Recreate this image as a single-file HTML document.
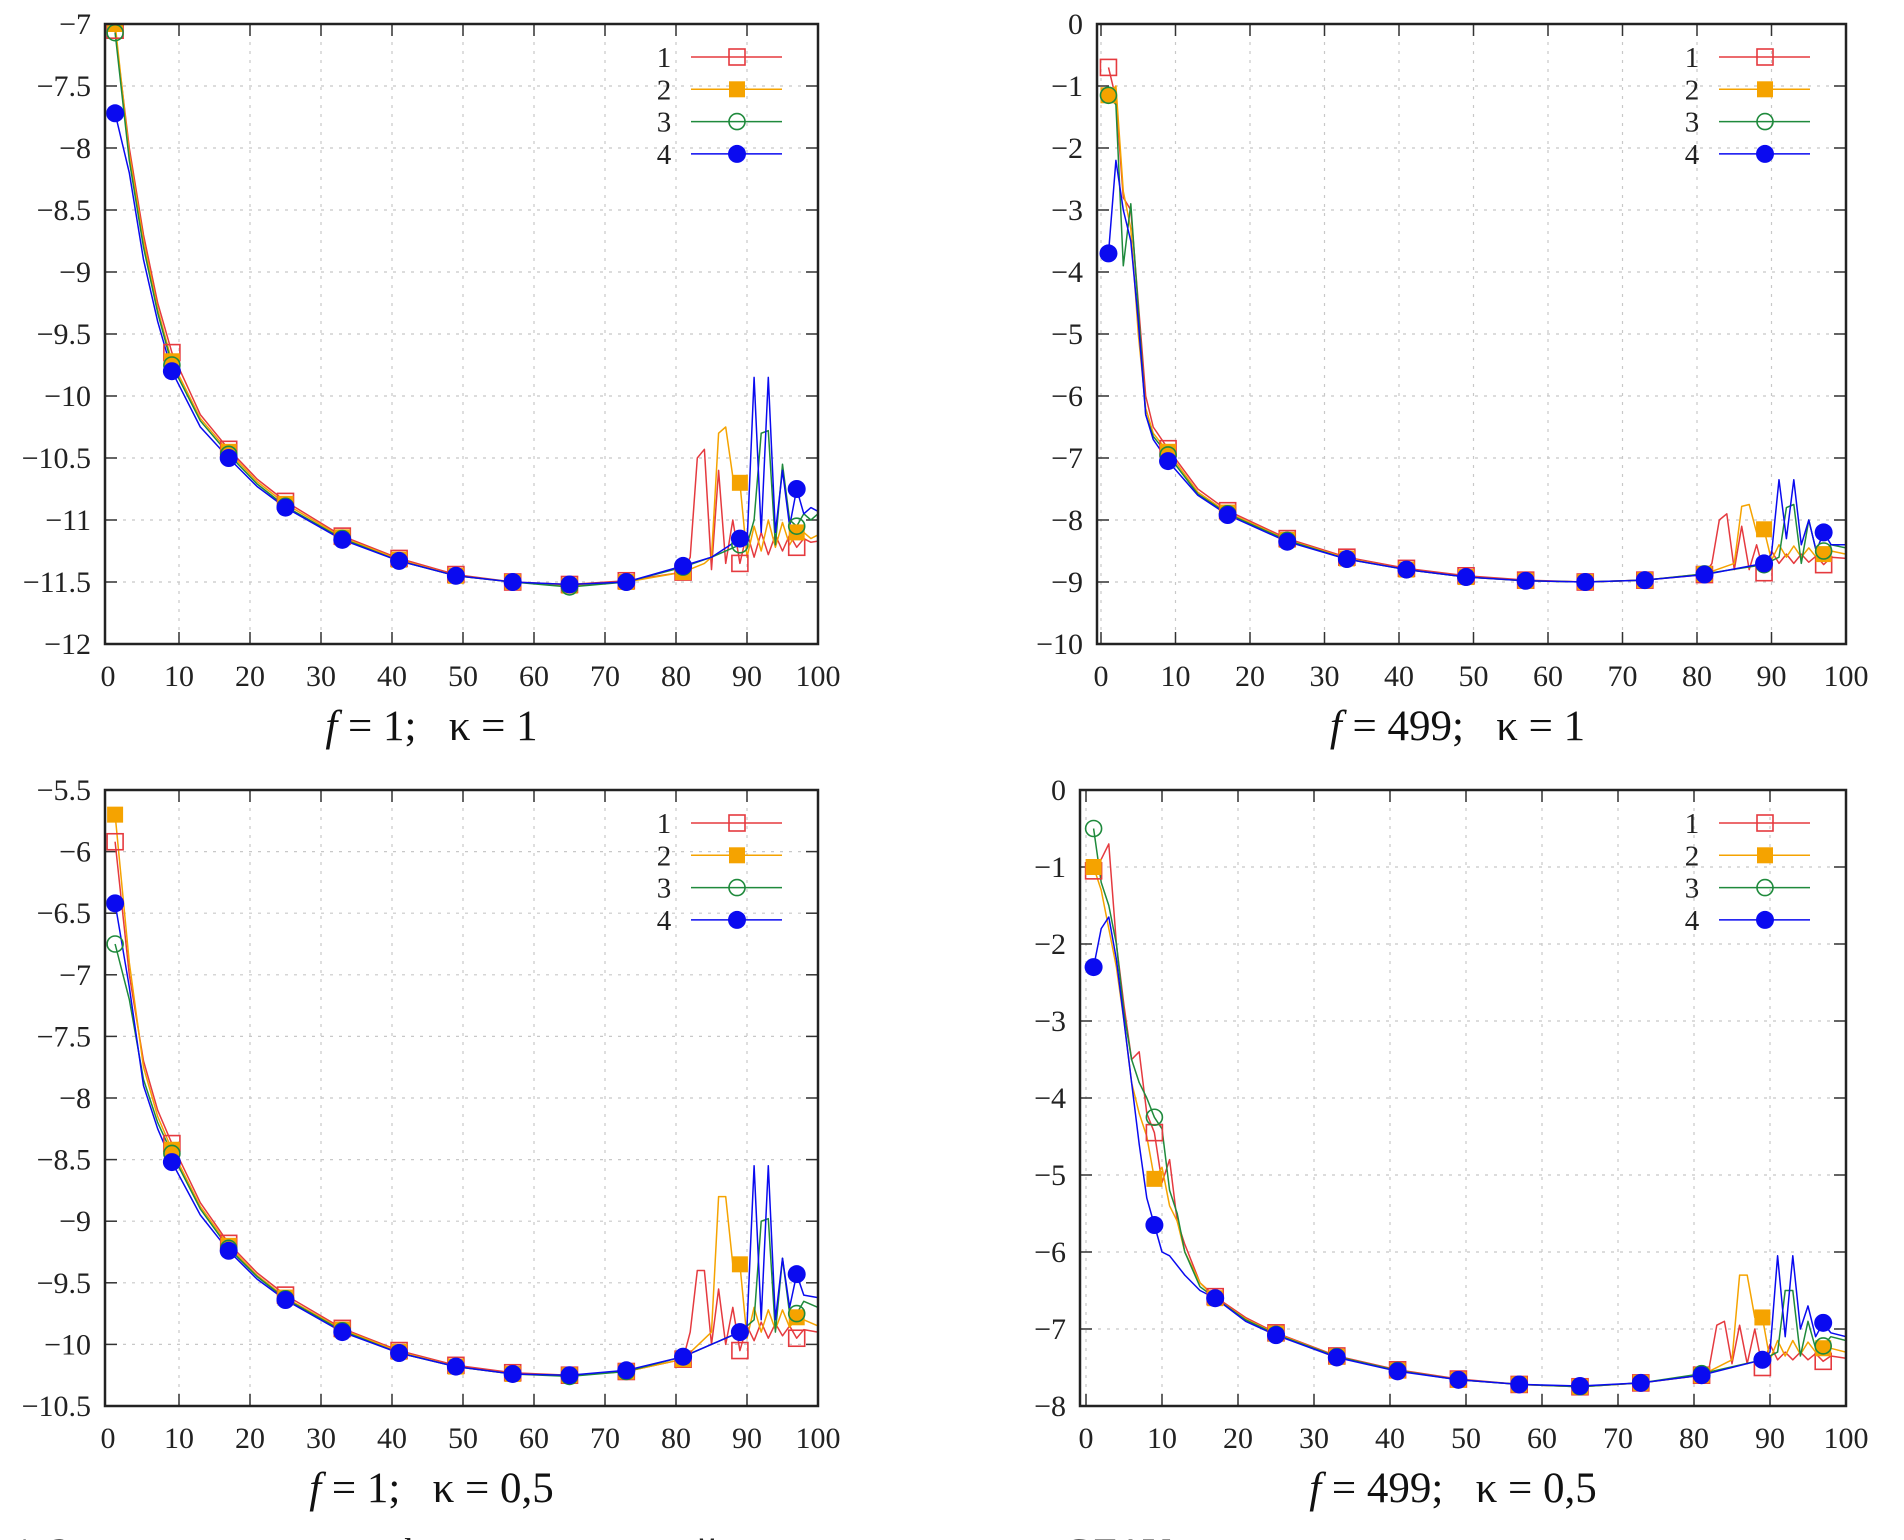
<!DOCTYPE html>
<html><head><meta charset="utf-8">
<style>
html,body{margin:0;padding:0;background:#fff;}
svg{display:block;}
text{font-family:"Liberation Serif","DejaVu Serif",serif;}
</style></head>
<body>
<svg id="fig" width="1904" height="1540" viewBox="0 0 1904 1540" xmlns="http://www.w3.org/2000/svg">
<text x="10" y="1566" font-size="40" fill="#222">4. Зависимости логарифма погрешностей решения от номера СЛАУ</text>
</svg>
<script>
// ---- data ----
const tl1=[[1,-7.05],[3,-8.0],[5,-8.7],[7,-9.25],[9,-9.65],[13,-10.15],[17,-10.43],[21,-10.67],[25,-10.85],[33,-11.13],[41,-11.31],[49,-11.44],[57,-11.5],[65,-11.52],[73,-11.49],[81,-11.42],[82,-11.3],[83,-10.5],[84,-10.43],[85,-11.4],[86,-10.6],[87,-11.35],[88,-11.0],[89,-11.35],[90,-11.1],[91,-11.3],[92,-11.1],[93,-11.28],[94,-11.12],[95,-11.25],[96,-11.12],[97,-11.22],[98,-11.15],[99,-11.18],[100,-11.17]];
const tl2=[[1,-7.0],[3,-8.05],[5,-8.75],[7,-9.3],[9,-9.72],[13,-10.18],[17,-10.45],[21,-10.69],[25,-10.87],[33,-11.14],[41,-11.32],[49,-11.45],[57,-11.5],[65,-11.53],[73,-11.5],[81,-11.42],[84,-11.35],[85,-11.3],[86,-10.3],[87,-10.25],[88,-10.65],[89,-10.7],[90,-11.3],[91,-11.05],[92,-11.25],[93,-11.0],[94,-11.22],[95,-11.02],[96,-11.2],[97,-11.1],[98,-11.1],[99,-11.15],[100,-11.12]];
const tl3=[[1,-7.07],[3,-8.1],[5,-8.8],[7,-9.33],[9,-9.75],[13,-10.2],[17,-10.47],[21,-10.71],[25,-10.89],[33,-11.15],[41,-11.33],[49,-11.45],[57,-11.5],[65,-11.54],[73,-11.5],[81,-11.38],[85,-11.3],[89,-11.2],[90,-11.2],[91,-11.0],[92,-10.3],[93,-10.28],[94,-11.2],[95,-10.55],[96,-11.0],[97,-11.05],[98,-10.95],[99,-11.0],[100,-10.95]];
const tl4=[[1,-7.72],[3,-8.2],[5,-8.9],[7,-9.4],[9,-9.8],[13,-10.25],[17,-10.5],[21,-10.73],[25,-10.9],[33,-11.16],[41,-11.33],[49,-11.45],[57,-11.5],[65,-11.52],[73,-11.5],[81,-11.37],[85,-11.3],[89,-11.15],[90,-11.2],[91,-9.85],[92,-11.1],[93,-9.85],[94,-11.1],[95,-10.6],[96,-11.05],[97,-10.75],[98,-10.95],[99,-10.9],[100,-10.93]];

const tr1=[[1,-0.7],[2,-1.2],[3,-2.8],[4,-3.0],[5,-4.5],[6,-6.0],[7,-6.5],[9,-6.85],[13,-7.5],[17,-7.85],[25,-8.3],[33,-8.6],[41,-8.78],[49,-8.9],[57,-8.97],[65,-9.0],[73,-8.97],[81,-8.88],[82,-8.7],[83,-8.0],[84,-7.9],[85,-8.8],[86,-8.1],[87,-8.8],[88,-8.4],[89,-8.85],[90,-8.5],[91,-8.7],[92,-8.55],[93,-8.7],[94,-8.55],[95,-8.68],[96,-8.58],[97,-8.72],[98,-8.6],[100,-8.62]];
const tr2=[[1,-1.15],[2,-1.0],[3,-2.7],[4,-3.3],[5,-5.0],[6,-6.2],[7,-6.6],[9,-6.9],[13,-7.55],[17,-7.88],[25,-8.32],[33,-8.62],[41,-8.8],[49,-8.92],[57,-8.98],[65,-9.0],[73,-8.97],[81,-8.87],[85,-8.7],[86,-7.78],[87,-7.75],[88,-8.2],[89,-8.15],[90,-8.65],[91,-8.4],[92,-8.6],[93,-8.42],[94,-8.6],[95,-8.45],[96,-8.6],[97,-8.55],[98,-8.5],[100,-8.55]];
const tr3=[[1,-1.15],[2,-1.3],[3,-3.9],[4,-2.9],[5,-4.6],[6,-6.3],[7,-6.65],[9,-6.95],[13,-7.58],[17,-7.9],[25,-8.33],[33,-8.63],[41,-8.8],[49,-8.92],[57,-8.98],[65,-9.0],[73,-8.97],[81,-8.87],[89,-8.72],[91,-8.6],[92,-7.8],[93,-7.75],[94,-8.7],[95,-8.0],[96,-8.5],[97,-8.5],[98,-8.4],[100,-8.45]];
const tr4=[[1,-3.7],[2,-2.2],[3,-3.0],[4,-3.5],[5,-4.8],[6,-6.3],[7,-6.7],[9,-7.05],[13,-7.6],[17,-7.92],[25,-8.35],[33,-8.63],[41,-8.8],[49,-8.92],[57,-8.98],[65,-9.0],[73,-8.97],[81,-8.88],[89,-8.7],[90,-8.55],[91,-7.35],[92,-8.3],[93,-7.35],[94,-8.4],[95,-8.0],[96,-8.5],[97,-8.2],[98,-8.4],[100,-8.4]];

const bl1=[[1,-5.92],[3,-7.0],[5,-7.7],[7,-8.1],[9,-8.37],[13,-8.85],[17,-9.18],[21,-9.42],[25,-9.6],[33,-9.87],[41,-10.05],[49,-10.17],[57,-10.23],[65,-10.25],[73,-10.22],[81,-10.12],[82,-9.9],[83,-9.4],[84,-9.4],[85,-10.0],[86,-9.55],[87,-10.0],[88,-9.7],[89,-10.05],[90,-9.85],[91,-9.97],[92,-9.82],[93,-9.95],[94,-9.83],[95,-9.93],[96,-9.85],[97,-9.95],[98,-9.88],[100,-9.9]];
const bl2=[[1,-5.7],[3,-6.9],[5,-7.75],[7,-8.15],[9,-8.42],[13,-8.88],[17,-9.2],[21,-9.44],[25,-9.62],[33,-9.88],[41,-10.06],[49,-10.18],[57,-10.24],[65,-10.25],[73,-10.22],[81,-10.12],[85,-9.9],[86,-8.8],[87,-8.8],[88,-9.35],[89,-9.35],[90,-9.95],[91,-9.7],[92,-9.9],[93,-9.72],[94,-9.88],[95,-9.72],[96,-9.86],[97,-9.78],[98,-9.8],[100,-9.85]];
const bl3=[[1,-6.75],[3,-7.2],[5,-7.85],[7,-8.2],[9,-8.45],[13,-8.9],[17,-9.22],[21,-9.45],[25,-9.63],[33,-9.89],[41,-10.07],[49,-10.18],[57,-10.24],[65,-10.26],[73,-10.22],[81,-10.1],[89,-9.9],[91,-9.8],[92,-9.0],[93,-8.98],[94,-9.9],[95,-9.3],[96,-9.75],[97,-9.75],[98,-9.65],[100,-9.7]];
const bl4=[[1,-6.42],[3,-7.1],[5,-7.9],[7,-8.25],[9,-8.52],[13,-8.95],[17,-9.24],[21,-9.47],[25,-9.64],[33,-9.9],[41,-10.07],[49,-10.18],[57,-10.24],[65,-10.25],[73,-10.21],[81,-10.1],[89,-9.9],[90,-9.85],[91,-8.55],[92,-9.8],[93,-8.55],[94,-9.8],[95,-9.3],[96,-9.7],[97,-9.43],[98,-9.6],[100,-9.62]];

const br1=[[1,-1.05],[2,-0.9],[3,-0.7],[4,-2.0],[5,-2.8],[6,-3.5],[7,-3.4],[8,-4.2],[9,-4.45],[10,-5.1],[11,-4.8],[12,-5.6],[13,-5.9],[15,-6.4],[17,-6.58],[21,-6.85],[25,-7.05],[33,-7.35],[41,-7.53],[49,-7.65],[57,-7.72],[65,-7.75],[73,-7.7],[81,-7.6],[82,-7.5],[83,-6.95],[84,-6.9],[85,-7.45],[86,-6.95],[87,-7.45],[88,-7.0],[89,-7.5],[90,-7.2],[91,-7.4],[92,-7.3],[93,-7.4],[94,-7.3],[95,-7.4],[96,-7.32],[97,-7.42],[98,-7.35],[100,-7.38]];
const br2=[[1,-1.0],[2,-1.3],[3,-1.8],[4,-2.3],[5,-3.0],[6,-3.8],[7,-4.2],[8,-4.5],[9,-5.05],[10,-4.9],[11,-5.4],[12,-5.6],[13,-6.0],[15,-6.4],[17,-6.6],[21,-6.87],[25,-7.06],[33,-7.36],[41,-7.54],[49,-7.66],[57,-7.72],[65,-7.75],[73,-7.7],[81,-7.6],[85,-7.4],[86,-6.3],[87,-6.3],[88,-6.85],[89,-6.85],[90,-7.4],[91,-7.15],[92,-7.35],[93,-7.15],[94,-7.33],[95,-7.17],[96,-7.3],[97,-7.25],[98,-7.25],[100,-7.3]];
const br3=[[1,-0.5],[2,-1.2],[3,-1.5],[4,-2.0],[5,-2.9],[6,-3.5],[7,-3.8],[8,-4.0],[9,-4.25],[10,-4.4],[11,-5.2],[12,-5.5],[13,-6.0],[15,-6.45],[17,-6.6],[21,-6.88],[25,-7.07],[33,-7.36],[41,-7.54],[49,-7.66],[57,-7.72],[65,-7.75],[73,-7.7],[81,-7.58],[89,-7.4],[91,-7.3],[92,-6.5],[93,-6.5],[94,-7.35],[95,-6.9],[96,-7.25],[97,-7.22],[98,-7.1],[100,-7.15]];
const br4=[[1,-2.3],[2,-1.8],[3,-1.65],[4,-2.2],[5,-3.0],[6,-3.8],[7,-4.6],[8,-5.3],[9,-5.65],[10,-6.0],[11,-6.05],[13,-6.3],[15,-6.5],[17,-6.6],[21,-6.9],[25,-7.08],[33,-7.37],[41,-7.55],[49,-7.66],[57,-7.72],[65,-7.74],[73,-7.7],[81,-7.6],[89,-7.4],[90,-7.3],[91,-6.05],[92,-7.1],[93,-6.05],[94,-7.0],[95,-6.7],[96,-7.1],[97,-6.92],[98,-7.05],[100,-7.1]];

const xTicks=[0,10,20,30,40,50,60,70,80,90,100];
const tlYTicks=[-12,-11.5,-11,-10.5,-10,-9.5,-9,-8.5,-8,-7.5,-7];
const trYTicks=[-10,-9,-8,-7,-6,-5,-4,-3,-2,-1,0];
const blYTicks=[-10.5,-10,-9.5,-9,-8.5,-8,-7.5,-7,-6.5,-6,-5.5];
const brYTicks=[-8,-7,-6,-5,-4,-3,-2,-1,0];
const markerX=[1,9,17,25,33,41,49,57,65,73,81,89,97];
const seriesLabels=["1","2","3","4"];
const colors=["#e53a3f","#f5a300","#1f8a3c","#0a0af0"];

const NS="http://www.w3.org/2000/svg";
const svg=document.getElementById('fig');
function mk(tag,attrs,parent){const e=document.createElementNS(NS,tag);for(const k in attrs)e.setAttribute(k,attrs[k]);(parent||svg).appendChild(e);return e;}
function fmt(v){return (v<0?"\u2212":"")+String(Math.abs(v));}

function marker(g,i,x,y){
  let m;
  if(i===0){m=mk('rect',{x:x-8,y:y-8,width:16,height:16,fill:'none',stroke:colors[0],'stroke-width':1.6},g);}
  else if(i===1){m=mk('rect',{x:x-8,y:y-8,width:16,height:16,fill:colors[1],stroke:'none'},g);}
  else if(i===2){m=mk('circle',{cx:x,cy:y,r:8,fill:'none',stroke:colors[2],'stroke-width':1.6},g);}
  else {m=mk('circle',{cx:x,cy:y,r:9,fill:colors[3]},g);}
  
  
  return m;
}

function panel(id,box,x0px,x100px,yTicks,series,caption,capShift){
  const g=mk('g',{});
  
  
  const [L,T,R,B]=box;
  const ymin=yTicks[0], ymax=yTicks[yTicks.length-1];
  const sx=v=>x0px+(x100px-x0px)*v/100;
  const sy=v=>B-(B-T)*(v-ymin)/(ymax-ymin);
  xTicks.forEach(t=>{const X=sx(t);if(X>L+3&&X<R-3){const l=mk('line',{x1:X,y1:T,x2:X,y2:B,stroke:'#c8c8c8','stroke-width':1.2,'stroke-dasharray':'3 6'},g);
    mk('line',{x1:X,y1:B,x2:X,y2:B-12,stroke:'#333','stroke-width':1.5},g);mk('line',{x1:X,y1:T,x2:X,y2:T+12,stroke:'#333','stroke-width':1.5},g);}});
  yTicks.forEach(t=>{const Y=sy(t);if(Y>T+3&&Y<B-3){const l=mk('line',{x1:L,y1:Y,x2:R,y2:Y,stroke:'#c8c8c8','stroke-width':1.2,'stroke-dasharray':'3 6'},g);
    mk('line',{x1:L,y1:Y,x2:L+12,y2:Y,stroke:'#333','stroke-width':1.5},g);mk('line',{x1:R,y1:Y,x2:R-12,y2:Y,stroke:'#333','stroke-width':1.5},g);}});
  xTicks.forEach(t=>{const tx=mk('text',{x:sx(t),y:B+42,'font-size':30,'text-anchor':'middle',fill:'#222'},g);tx.textContent=String(t);
    });
  yTicks.forEach(t=>{const tx=mk('text',{x:L-14,y:sy(t)+10,'font-size':30,'text-anchor':'end',fill:'#222'},g);tx.textContent=fmt(t);
    });
  const cid='clip-'+id;
  const cp=mk('clipPath',{id:cid},g);mk('rect',{x:L,y:T,width:R-L,height:B-T},cp);
  const plot=mk('g',{'clip-path':'url(#'+cid+')'},g);
  series.forEach((s,i)=>{
    const d=s.map((p,j)=>(j?'L':'M')+sx(p[0]).toFixed(1)+','+sy(p[1]).toFixed(1)).join(' ');
    const pa=mk('path',{d:d,fill:'none',stroke:colors[i],'stroke-width':1.5,'stroke-linejoin':'round'},plot);
    
    
  });
  series.forEach((s,i)=>{
    s.forEach(p=>{if(markerX.indexOf(p[0])>=0)marker(plot,i,sx(p[0]),sy(p[1]));});
  });
  seriesLabels.forEach((lab,i)=>{
    const Y=T+33+i*32.3;
    const tx=mk('text',{x:R-154,y:Y+10,'font-size':29,'text-anchor':'middle',fill:'#222'},g);tx.textContent=lab;
    
    const ln=mk('line',{x1:R-127,y1:Y,x2:R-36,y2:Y,stroke:colors[i],'stroke-width':1.5},g);
    
    marker(g,i,R-81,Y);
  });
  const fr=mk('rect',{x:L,y:T,width:R-L,height:B-T,fill:'none',stroke:'#222','stroke-width':2.5},g);
  
  const cap=mk('text',{x:(L+R)/2+capShift,y:B+96,'font-size':43,'text-anchor':'middle',fill:'#111'},g);
  
  const it=mk('tspan',{'font-style':'italic'},cap);it.textContent='f';
  const rest=mk('tspan',{},cap);rest.textContent=caption;
}

panel('panel-f1-k1',[105,24,818,644],108,818,tlYTicks,[tl1,tl2,tl3,tl4],' = 1;\u00a0\u00a0\u00a0κ = 1',-30);
panel('panel-f499-k1',[1097,24,1846,644],1101,1846,trYTicks,[tr1,tr2,tr3,tr4],' = 499;\u00a0\u00a0\u00a0κ = 1',-14);
panel('panel-f1-k05',[105,790,818,1406],108,818,blYTicks,[bl1,bl2,bl3,bl4],' = 1;\u00a0\u00a0\u00a0κ = 0,5',-30);
panel('panel-f499-k05',[1080,790,1846,1406],1086,1846,brYTicks,[br1,br2,br3,br4],' = 499;\u00a0\u00a0\u00a0κ = 0,5',-10);
</script>
</body></html>
